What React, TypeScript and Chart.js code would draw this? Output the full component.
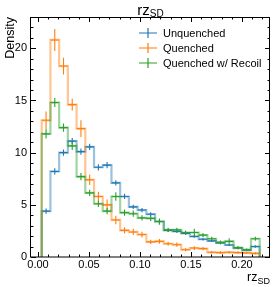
import React, { useEffect, useRef } from "react";
import { Chart, registerables } from "chart.js";

Chart.register(...registerables);

// ---- data ----
const BIN_LO = 0.0036;
const BIN_HI = 0.2174;
const N_BINS = 25;

const SERIES_NAMES = ["Unquenched", "Quenched", "Quenched w/ Recoil"];
const SERIES_COLORS = ["#1f77b4", "#ff7f0e", "#2ca02c"];

const UNQUENCHED = [4.4, 8.2, 10.0, 11.1, 10.1, 10.55, 8.6, 8.8, 7.1, 5.8, 4.8, 4.5, 4.1, 3.4, 2.55, 2.45, 2.25, 1.97, 1.7, 1.55, 1.35, 1.15, 0.86, 0.65, 1.0];
const UNQUENCHED_ERR = [0.25, 0.3, 0.3, 0.3, 0.3, 0.3, 0.3, 0.3, 0.25, 0.25, 0.2, 0.2, 0.2, 0.18, 0.15, 0.15, 0.15, 0.13, 0.13, 0.12, 0.12, 0.1, 0.1, 0.08, 0.12];

const QUENCHED = [13.1, 20.8, 18.3, 14.6, 12.3, 7.4, 5.8, 5.0, 3.55, 2.55, 2.4, 2.15, 1.45, 1.5, 1.27, 1.18, 0.7, 0.86, 0.8, 0.45, 0.42, 0.45, 0.42, 0.4, 0.35];
const QUENCHED_ERR = [0.85, 1.05, 0.8, 0.56, 0.8, 0.5, 0.45, 0.5, 0.4, 0.3, 0.3, 0.28, 0.2, 0.22, 0.2, 0.2, 0.15, 0.18, 0.15, 0.12, 0.12, 0.12, 0.12, 0.1, 0.1];

const RECOIL = [11.8, 14.8, 12.4, 10.65, 7.7, 6.15, 5.1, 4.4, 5.8, 4.25, 4.15, 3.75, 3.7, 3.4, 2.6, 2.6, 2.35, 2.35, 2.1, 1.75, 1.4, 1.5, 0.9, 0.7, 1.75];
const RECOIL_ERR = [0.45, 0.43, 0.4, 0.4, 0.35, 0.3, 0.3, 0.3, 0.4, 0.3, 0.3, 0.25, 0.25, 0.3, 0.2, 0.2, 0.2, 0.35, 0.2, 0.2, 0.18, 0.3, 0.15, 0.12, 0.2];

const X_TICKS = [0, 0.05, 0.1, 0.15, 0.2];
const Y_TICKS = [0, 5, 10, 15, 20];
const X_MIN = -0.0069;
const X_MAX = 0.2275;
const Y_MIN = 0;
const Y_MAX = 23;

const TITLE_MAIN = "rz";
const TITLE_SUB = "SD";
const Y_LABEL = "Density";

const FONT = '"Liberation Sans", Arial, Helvetica, sans-serif';

// ---- helpers ----
function binEdges(): number[] {
  const w = (BIN_HI - BIN_LO) / N_BINS;
  const e: number[] = [];
  for (let i = 0; i <= N_BINS; i++) e.push(BIN_LO + i * w);
  return e;
}

function stepPoints(vals: number[], edges: number[]) {
  const pts: { x: number; y: number }[] = [{ x: edges[0], y: 0 }];
  vals.forEach((v, i) => {
    pts.push({ x: edges[i], y: v });
    pts.push({ x: edges[i + 1], y: v });
  });
  pts.push({ x: edges[vals.length], y: 0 });
  return pts;
}

function errPoints(vals: number[], errs: number[], edges: number[]) {
  const pts: { x: number; y: number | null }[] = [];
  vals.forEach((v, i) => {
    const xl = edges[i];
    const xr = edges[i + 1];
    const xc = (xl + xr) / 2;
    pts.push({ x: xl, y: v }, { x: xr, y: v }, { x: xr, y: null });
    pts.push({ x: xc, y: v - errs[i] }, { x: xc, y: v + errs[i] }, { x: xc, y: null });
  });
  return pts;
}

function hexA(hex: string, a: number) {
  const r = parseInt(hex.slice(1, 3), 16);
  const g = parseInt(hex.slice(3, 5), 16);
  const b = parseInt(hex.slice(5, 7), 16);
  return `rgba(${r},${g},${b},${a})`;
}

function drawSub(
  ctx: CanvasRenderingContext2D,
  x: number,
  y: number,
  main: string,
  sub: string,
  mainSize: number,
  subSize: number,
  subDrop: number,
  align: "center" | "right"
) {
  ctx.font = `${mainSize}px ${FONT}`;
  const w1 = ctx.measureText(main).width;
  ctx.font = `${subSize}px ${FONT}`;
  const w2 = ctx.measureText(sub).width;
  const x0 = align === "center" ? x - (w1 + w2) / 2 : x - w1 - w2;
  ctx.textAlign = "left";
  ctx.textBaseline = "alphabetic";
  ctx.font = `${mainSize}px ${FONT}`;
  ctx.fillText(main, x0, y);
  ctx.font = `${subSize}px ${FONT}`;
  ctx.fillText(sub, x0 + w1, y + subDrop);
}

const decorPlugin = {
  id: "decor",
  afterDraw(chart: any) {
    const { ctx, chartArea: a, scales } = chart;
    const xs = scales.x;
    const ys = scales.y;
    ctx.save();
    ctx.strokeStyle = "#000";
    ctx.lineWidth = 1;

    // inward ticks on all sides
    ctx.beginPath();
    for (let i = -1; i <= 23; i++) {
      const v = i * 0.01;
      if (v < X_MIN || v > X_MAX) continue;
      const px = Math.round(xs.getPixelForValue(v)) + 0.5;
      const len = i % 5 === 0 ? 5 : 2.5;
      ctx.moveTo(px, a.bottom);
      ctx.lineTo(px, a.bottom - len);
      ctx.moveTo(px, a.top);
      ctx.lineTo(px, a.top + len);
    }
    for (let i = 0; i <= 23; i++) {
      if (i < Y_MIN || i > Y_MAX) continue;
      const py = Math.round(ys.getPixelForValue(i)) + 0.5;
      const len = i % 5 === 0 ? 5 : 2.5;
      ctx.moveTo(a.left, py);
      ctx.lineTo(a.left + len, py);
      ctx.moveTo(a.right, py);
      ctx.lineTo(a.right - len, py);
    }
    ctx.stroke();

    // frame
    ctx.strokeRect(Math.round(a.left) - 0.5, Math.round(a.top) + 0.5, Math.round(a.right - a.left), Math.round(a.bottom - a.top) - 0.5);

    ctx.fillStyle = "#000";
    // title
    drawSub(ctx, (a.left + a.right) / 2, 15, TITLE_MAIN, TITLE_SUB, 15, 10, 2, "center");
    // x label
    drawSub(ctx, a.right, 281, TITLE_MAIN, TITLE_SUB, 12.5, 9, 2.5, "right");
    // y label
    ctx.save();
    ctx.translate(13.5, a.top);
    ctx.rotate(-Math.PI / 2);
    ctx.font = `12.5px ${FONT}`;
    ctx.textAlign = "right";
    ctx.textBaseline = "alphabetic";
    ctx.fillText(Y_LABEL, 0, 0);
    ctx.restore();

    // legend
    const mx = a.right - 122;
    SERIES_NAMES.forEach((name, i) => {
      const y = a.top + 16 + i * 15;
      ctx.strokeStyle = SERIES_COLORS[i];
      ctx.lineWidth = 1.2;
      ctx.beginPath();
      ctx.moveTo(mx - 9, y);
      ctx.lineTo(mx + 9, y);
      ctx.moveTo(mx, y - 5);
      ctx.lineTo(mx, y + 5);
      ctx.stroke();
      ctx.fillStyle = "#000";
      ctx.font = `11px ${FONT}`;
      ctx.textAlign = "left";
      ctx.textBaseline = "middle";
      ctx.fillText(name, mx + 15, y + 0.5);
    });
    ctx.restore();
  },
};

export default function App() {
  const ref = useRef<HTMLCanvasElement | null>(null);

  useEffect(() => {
    document.body.style.margin = "0";
    if (!ref.current) return;
    const edges = binEdges();
    const vals = [UNQUENCHED, QUENCHED, RECOIL];
    const errs = [UNQUENCHED_ERR, QUENCHED_ERR, RECOIL_ERR];
    const datasets: any[] = [];
    vals.forEach((v, i) => {
      datasets.push({
        label: SERIES_NAMES[i] + " step",
        data: stepPoints(v, edges),
        borderColor: hexA(SERIES_COLORS[i], 0.45),
        borderWidth: 2.2,
        pointRadius: 0,
        fill: false,
        tension: 0,
        order: 6 - i * 2,
      });
      datasets.push({
        label: SERIES_NAMES[i],
        data: errPoints(v, errs[i], edges),
        borderColor: SERIES_COLORS[i],
        borderWidth: 1.1,
        pointRadius: 0,
        fill: false,
        tension: 0,
        spanGaps: false,
        order: 5 - i * 2,
      });
    });

    const chart = new Chart(ref.current, {
      type: "line",
      data: { datasets },
      options: {
        responsive: false,
        animation: false,
        devicePixelRatio: 1,
        layout: { padding: { top: 17, right: 4, left: 0, bottom: 0 } },
        plugins: {
          legend: { display: false },
          tooltip: { enabled: false },
          title: { display: false },
        },
        scales: {
          x: {
            type: "linear",
            min: X_MIN,
            max: X_MAX,
            afterFit: (s: any) => {
              s.height = 30;
            },
            afterBuildTicks: (s: any) => {
              s.ticks = X_TICKS.map((v) => ({ value: v }));
            },
            ticks: {
              callback: (v: any) => Number(v).toFixed(2),
              font: { family: FONT, size: 11 },
              color: "#000",
              padding: 1,
              maxRotation: 0,
              autoSkip: false,
            },
            grid: { display: false, drawTicks: false },
            border: { display: false },
          },
          y: {
            type: "linear",
            min: Y_MIN,
            max: Y_MAX,
            afterFit: (s: any) => {
              s.width = 31;
            },
            afterBuildTicks: (s: any) => {
              s.ticks = Y_TICKS.map((v) => ({ value: v }));
            },
            ticks: {
              font: { family: FONT, size: 11 },
              color: "#000",
              padding: 4,
              autoSkip: false,
            },
            grid: { display: false, drawTicks: false },
            border: { display: false },
          },
        },
      },
      plugins: [decorPlugin],
    });
    return () => chart.destroy();
  }, []);

  return (
    <div style={{ width: 274, height: 287, background: "#fff" }}>
      <canvas ref={ref} width={274} height={287} style={{ display: "block" }} />
    </div>
  );
}
